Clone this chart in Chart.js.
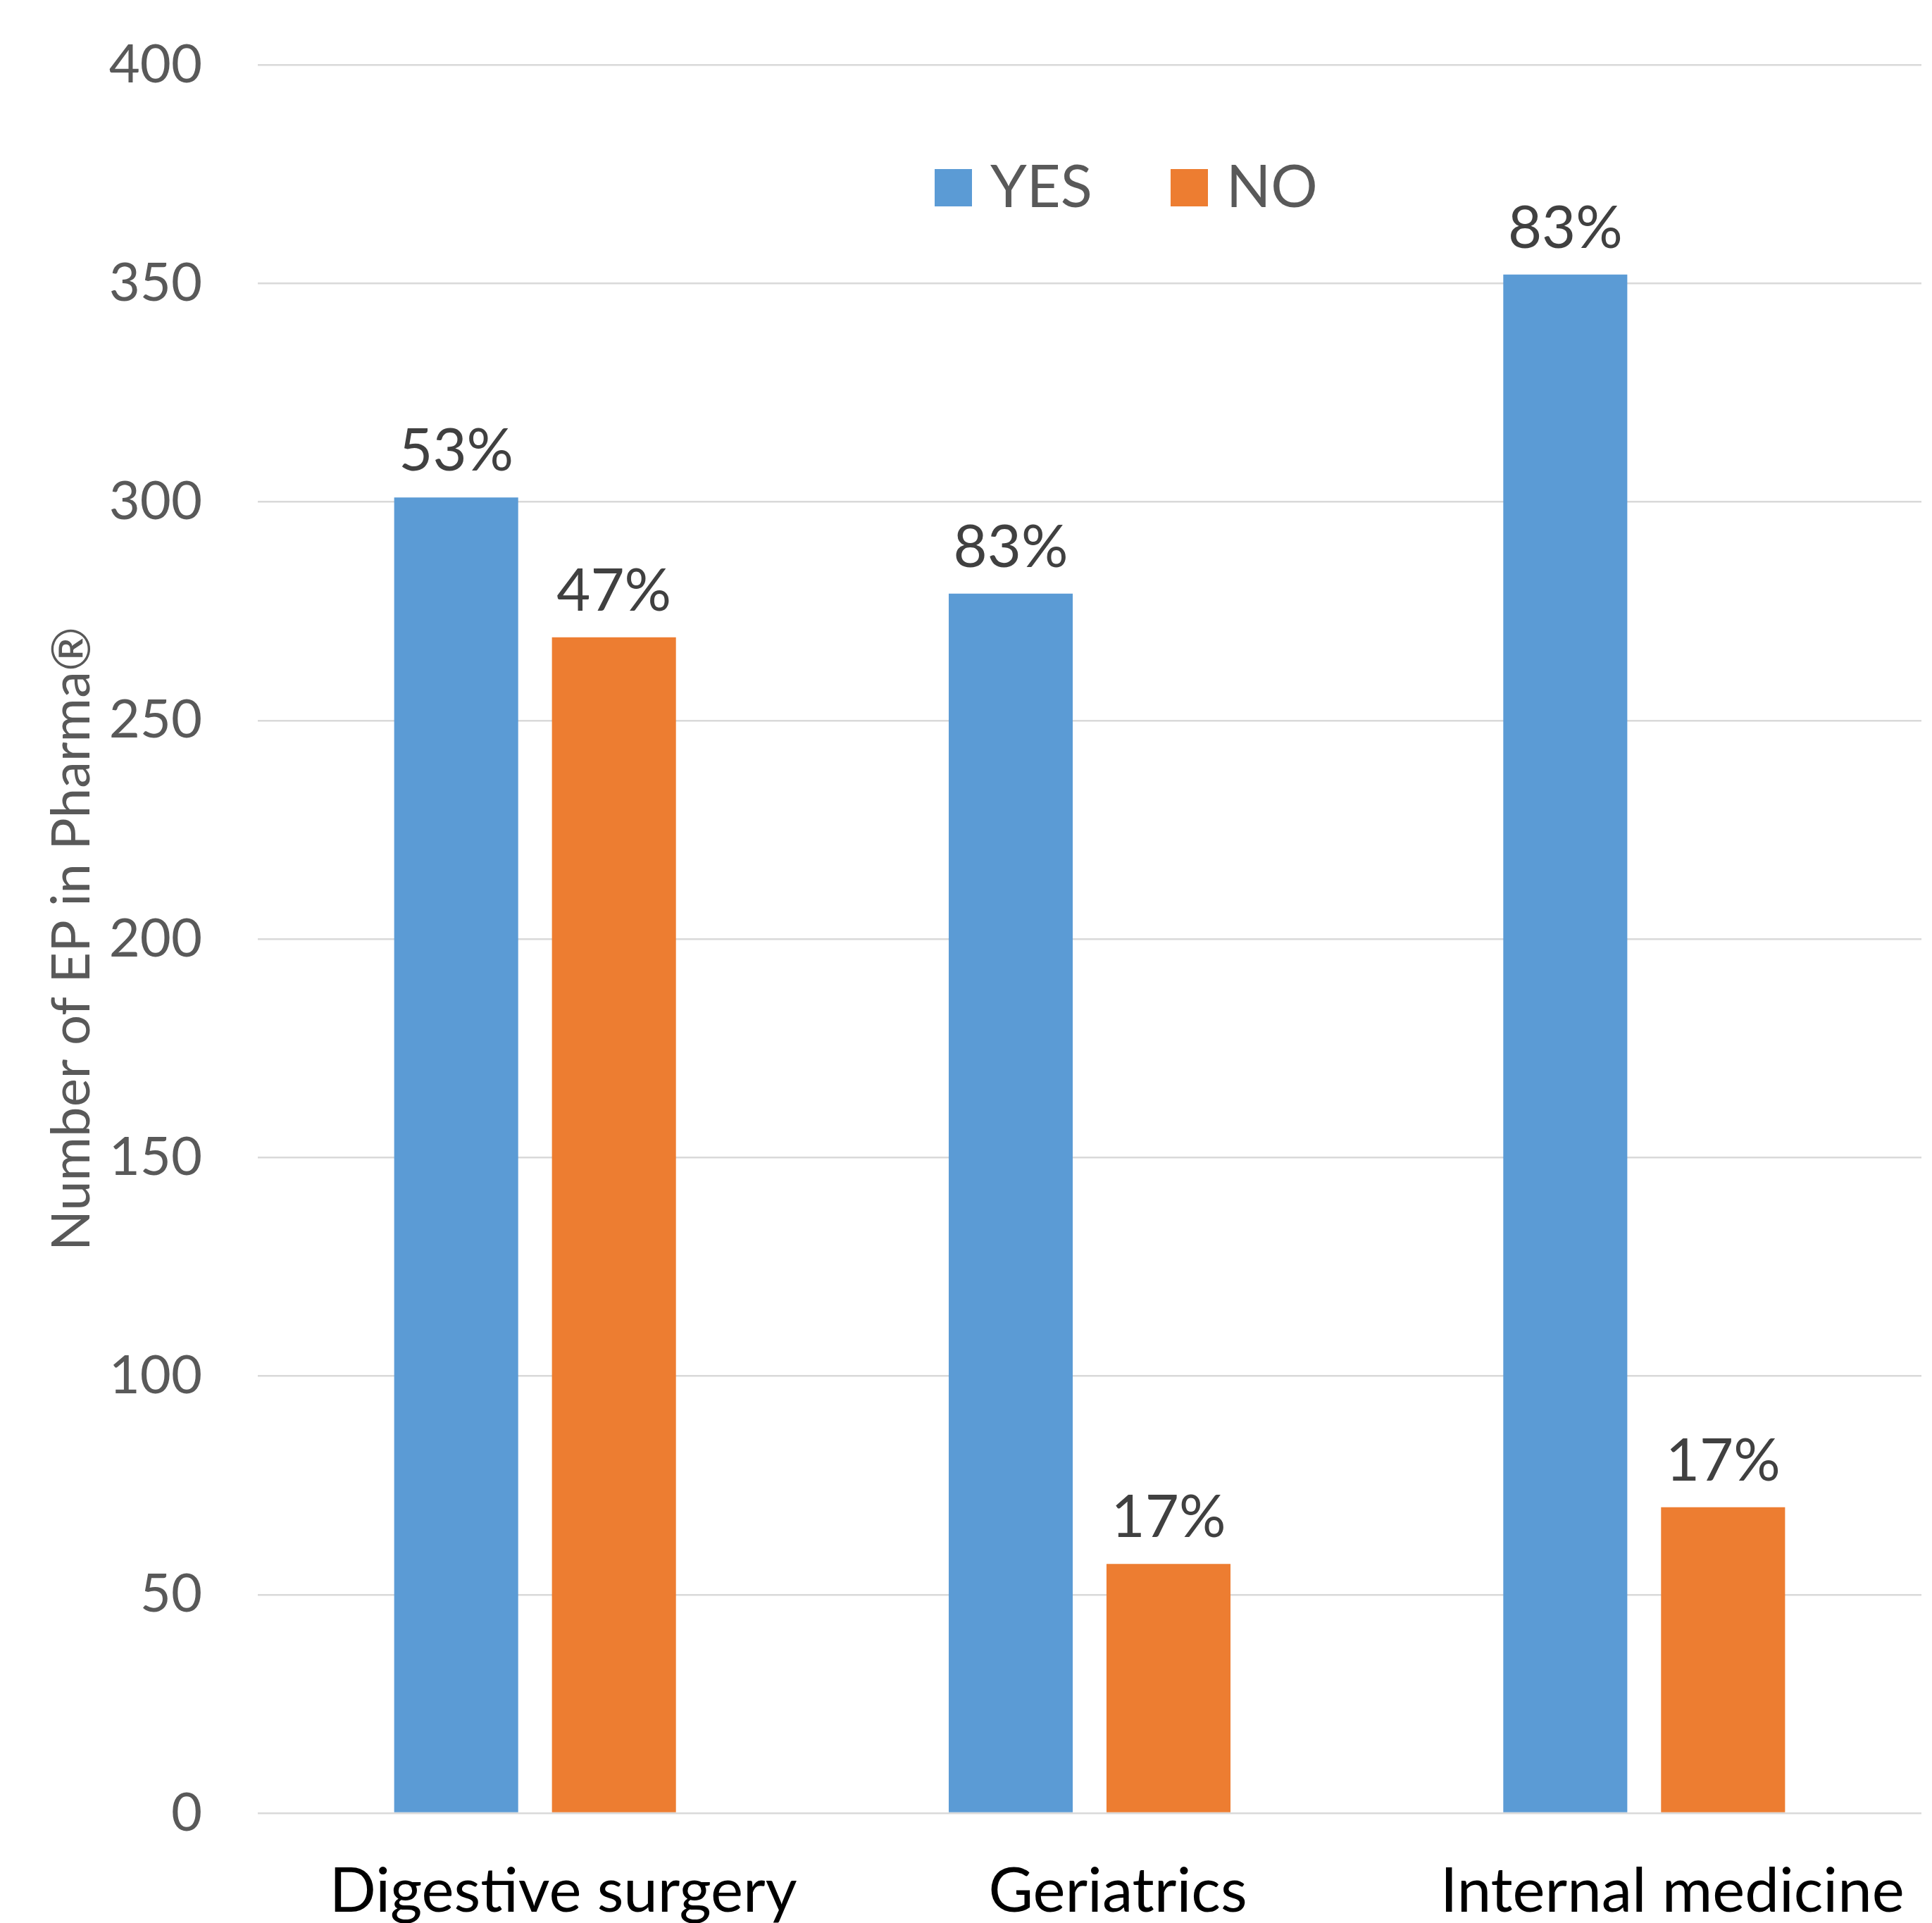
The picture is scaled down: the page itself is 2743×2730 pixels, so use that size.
<!DOCTYPE html>
<html><head><meta charset="utf-8">
<script src="https://cdn.jsdelivr.net/npm/chart.js@4.4.0/dist/chart.umd.min.js"></script>
<style>
html,body{margin:0;padding:0;background:#fff;overflow:hidden}
#wrap{width:2743px;height:2737px;position:relative}
canvas{display:block}
</style></head>
<body><div id="wrap"><canvas id="c" width="2743" height="2737"></canvas></div>
<script>
const categories = ['Digestive surgery', 'Geriatrics', 'Internal medicine'];
const seriesNames = ['YES', 'NO'];
const yesValues = [301, 279, 352];
const noValues = [269, 57, 70];
const yesLabels = ['53%', '83%', '83%'];
const noLabels = ['47%', '17%', '17%'];
const yTickValues = [0, 50, 100, 150, 200, 250, 300, 350, 400];
const seriesColors = ['#5B9BD5', '#ED7D31'];

const FONT = 'Lato';

const dataLabelPlugin = {
  id: 'dataLabels',
  afterDatasetsDraw(chart) {
    const ctx = chart.ctx;
    ctx.save();
    ctx.font = '83px ' + FONT;
    ctx.fillStyle = '#404040';
    ctx.textAlign = 'center';
    ctx.textBaseline = 'alphabetic';
    chart.data.datasets.forEach((ds, di) => {
      const meta = chart.getDatasetMeta(di);
      meta.data.forEach((bar, i) => {
        ctx.fillText(ds.pctLabels[i], bar.x, bar.y - 38);
      });
    });
    ctx.restore();
  }
};

const legendPlugin = {
  id: 'customLegend',
  afterDraw(chart) {
    const ctx = chart.ctx;
    ctx.save();
    ctx.font = '83px ' + FONT;
    ctx.textBaseline = 'alphabetic';
    ctx.textAlign = 'left';
    const itemX = [1327, 1662];
    const boxTop = 240, box = 53, baseline = 294;
    chart.data.datasets.forEach((ds, i) => {
      const x = itemX[i];
      ctx.fillStyle = ds.backgroundColor;
      ctx.fillRect(x, boxTop, 53, box);
      ctx.fillStyle = '#595959';
      ctx.fillText(ds.label, x + 53 + 26, baseline);
    });
    ctx.restore();
  }
};

new Chart(document.getElementById('c'), {
  type: 'bar',
  data: {
    labels: categories,
    datasets: [
      { label: seriesNames[0], data: yesValues, pctLabels: yesLabels, backgroundColor: seriesColors[0], borderWidth: 0 },
      { label: seriesNames[1], data: noValues, pctLabels: noLabels, backgroundColor: seriesColors[1], borderWidth: 0 }
    ]
  },
  options: {
    responsive: false,
    animation: false,
    devicePixelRatio: 1,
    layout: { padding: { top: 92, right: 15, bottom: 0, left: 0 } },
    plugins: { legend: { display: false }, tooltip: { enabled: false } },
    datasets: { bar: { barPercentage: 0.786, categoryPercentage: 0.569 } },
    scales: {
      x: {
        afterFit: (s) => { s.height = 163; s.paddingLeft = 0; s.paddingRight = 0; },
        grid: { display: false, drawTicks: false },
        border: { display: false },
        ticks: { color: '#000000', font: { family: FONT, size: 87 }, padding: 60, labelOffset: 40, maxRotation: 0, autoSkip: false }
      },
      y: {
        min: 0, max: 400,
        afterBuildTicks: (s) => { s.ticks = yTickValues.map(v => ({ value: v })); },
        afterFit: (s) => { s.width = 366; s.paddingTop = 0; s.paddingBottom = 0; },
        grid: { color: '#D9D9D9', lineWidth: 2.5, drawTicks: false },
        border: { display: false },
        ticks: { color: '#595959', font: { family: FONT, size: 76 }, padding: 79 },
        title: {
          display: true,
          text: 'Number of EP in Pharma®',
          color: '#595959',
          font: { family: FONT, size: 76 },
          padding: { top: 57, bottom: 0 }
        }
      }
    }
  },
  plugins: [dataLabelPlugin, legendPlugin]
});
</script>
</body></html>
